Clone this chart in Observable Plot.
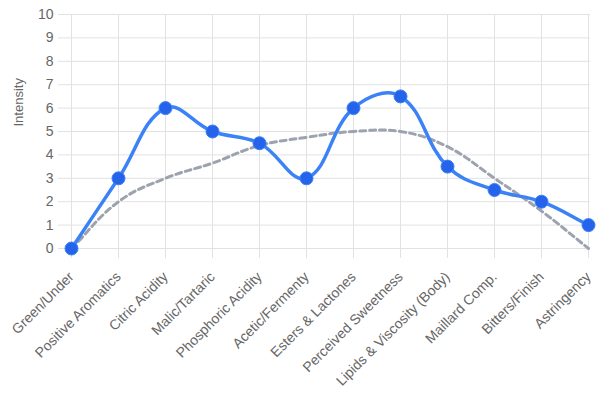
<!DOCTYPE html>
<html>
<head>
<meta charset="utf-8">
<script src="https://cdn.jsdelivr.net/npm/d3@7"></script>
<script src="https://cdn.jsdelivr.net/npm/@observablehq/plot@0.6"></script>
<style>
  html, body { margin: 0; padding: 0; background: #fff; }
  #chart svg { display: block; }
</style>
</head>
<body>
<div id="chart"></div>
<script>
const categories = ["Green/Under", "Positive Aromatics", "Citric Acidity", "Malic/Tartaric", "Phosphoric Acidity", "Acetic/Fermenty", "Esters & Lactones", "Perceived Sweetness", "Lipids & Viscosity (Body)", "Maillard Comp.", "Bitters/Finish", "Astringency"];
const intensity = [0, 3, 6, 5, 4.5, 3, 6, 6.5, 3.5, 2.5, 2, 1];
const reference = [0, 2, 3, 3.65, 4.4, 4.75, 5, 5, 4.35, 3, 1.6, 0];
const yTicks = [0, 1, 2, 3, 4, 5, 6, 7, 8, 9, 10];

const W = 606, H = 404, ML = 68, MR = 16, MT = 14, MB = 156;
const rows = categories.map((c, i) => ({cat: c, v: intensity[i], r: reference[i]}));
const gridColor = "#e2e2e2";
const textColor = "#666666";

// Chart.js-like spline (tension 0.4, distance weighted, control points capped to the plot area)
function chartjsCurve(tension, area) {
  return function(context) {
    let pts = [];
    return {
      areaStart() {}, areaEnd() {},
      lineStart() { pts = []; },
      point(x, y) { pts.push([+x, +y]); },
      lineEnd() {
        const n = pts.length;
        if (!n) return;
        const cpPrev = [], cpNext = [];
        const cap = (p) => [Math.max(area[0], Math.min(area[2], p[0])), Math.max(area[1], Math.min(area[3], p[1]))];
        for (let i = 0; i < n; i++) {
          const cur = pts[i], prev = pts[i - 1] || cur, next = pts[i + 1] || cur;
          const d01 = Math.hypot(cur[0] - prev[0], cur[1] - prev[1]);
          const d12 = Math.hypot(next[0] - cur[0], next[1] - cur[1]);
          let s01 = d01 / (d01 + d12), s12 = d12 / (d01 + d12);
          if (!isFinite(s01)) s01 = 0;
          if (!isFinite(s12)) s12 = 0;
          const fa = tension * s01, fb = tension * s12;
          cpPrev.push(cap([cur[0] - fa * (next[0] - prev[0]), cur[1] - fa * (next[1] - prev[1])]));
          cpNext.push(cap([cur[0] + fb * (next[0] - prev[0]), cur[1] + fb * (next[1] - prev[1])]));
        }
        context.moveTo(pts[0][0], pts[0][1]);
        for (let i = 1; i < n; i++) {
          context.bezierCurveTo(cpNext[i - 1][0], cpNext[i - 1][1], cpPrev[i][0], cpPrev[i][1], pts[i][0], pts[i][1]);
        }
      }
    };
  };
}
const curve = chartjsCurve(0.4, [ML, MT, W - MR, H - MB]);

const chart = Plot.plot({
  width: W,
  height: H,
  marginLeft: ML,
  marginRight: MR,
  marginTop: MT,
  marginBottom: MB,
  style: {fontFamily: "'Liberation Sans', Arial, sans-serif", fontSize: "14px", color: textColor, background: "#fff"},
  x: {type: "point", domain: categories, padding: 0},
  y: {domain: [0, 10]},
  marks: [
    Plot.gridY(yTicks, {stroke: gridColor, strokeOpacity: 1}),
    Plot.gridX(categories, {stroke: gridColor, strokeOpacity: 1}),
    Plot.axisY(yTicks, {tickSize: 10, tickPadding: 5, stroke: gridColor, strokeOpacity: 1, fill: textColor, fontSize: 14, label: null}),
    Plot.text(["Intensity"], {frameAnchor: "left", rotate: -90, dx: -50, dy: -5, fontSize: 13, fill: textColor}),
    Plot.axisX(categories, {tickSize: 10, tickPadding: 16, stroke: gridColor, strokeOpacity: 1, fill: textColor, fontSize: 14, tickRotate: -45, label: null}),
    Plot.line(rows, {x: "cat", y: "r", stroke: "#9ca3af", strokeWidth: 3, strokeDasharray: "6,4", curve}),
    Plot.line(rows, {x: "cat", y: "v", stroke: "#3b82f6", strokeWidth: 3.5, curve}),
    Plot.dot(rows, {x: "cat", y: "v", r: 6.5, fill: "#2563eb", stroke: "#3b82f6", strokeWidth: 1})
  ]
});
document.getElementById("chart").append(chart);
</script>
</body>
</html>
